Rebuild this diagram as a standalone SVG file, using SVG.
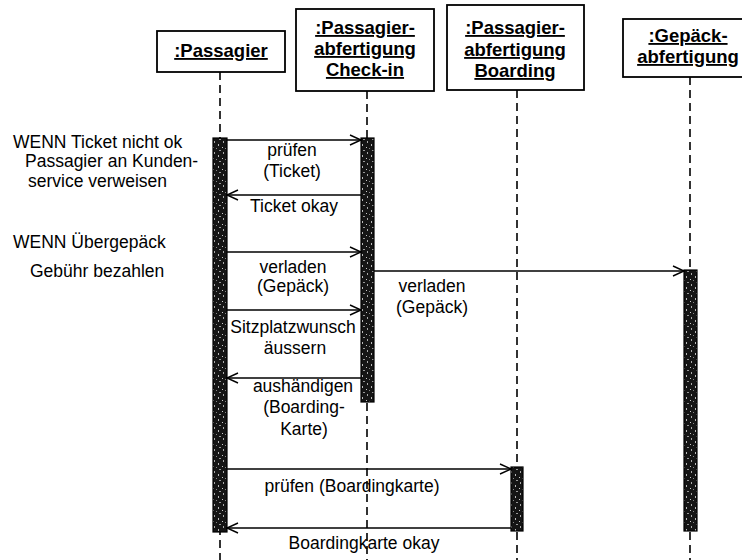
<svg xmlns="http://www.w3.org/2000/svg" width="742" height="560" viewBox="0 0 742 560">
<defs>
<style>
.box{fill:#fff;stroke:#000;stroke-width:1.8}
.hdr{font-family:"Liberation Sans",Arial,sans-serif;font-weight:bold;font-size:18.5px;text-anchor:middle;text-decoration:underline;fill:#000}
.life{stroke:#000;stroke-width:1.6;stroke-dasharray:8 5;fill:none}
.act{fill:url(#speck);stroke:#000;stroke-width:1.2}
.msg{stroke:#000;stroke-width:1.4;fill:none;marker-end:url(#arr)}
.lbl{font-family:"Liberation Sans",Arial,sans-serif;font-size:17.5px;fill:#000}
.c{text-anchor:middle}
</style>
<pattern id="speck" patternUnits="userSpaceOnUse" width="9" height="11">
<rect width="9" height="11" fill="#151515"/>
<rect x="2" y="1" width="1" height="2" fill="#bbb"/>
<rect x="6" y="4" width="1" height="1" fill="#ccc"/>
<rect x="3" y="7" width="2" height="1" fill="#999"/>
<rect x="7" y="9" width="1" height="2" fill="#aaa"/>
<rect x="0" y="5" width="1" height="1" fill="#888"/>
</pattern>
<marker id="arr" markerUnits="userSpaceOnUse" markerWidth="14" markerHeight="14" refX="12" refY="6" orient="auto">
<path d="M1,1 L12,6 L1,11" fill="none" stroke="#000" stroke-width="1.4"/>
</marker>
</defs>
<rect width="742" height="560" fill="#fff"/>

<g id="passagier">
<rect class="box" x="157" y="31" width="128" height="41"/>
<text class="hdr" x="221" y="57">:Passagier</text>
<line class="life" x1="220" y1="72" x2="220" y2="560"/>
<rect class="act" x="213" y="138" width="14" height="394"/>
</g>

<g id="checkin">
<rect class="box" x="296" y="9" width="138" height="82"/>
<text class="hdr" x="365" y="34">:Passagier-</text>
<text class="hdr" x="365" y="55">abfertigung</text>
<text class="hdr" x="365" y="76">Check-in</text>
<line class="life" x1="367" y1="91" x2="367" y2="560"/>
<rect class="act" x="361" y="138" width="13" height="264"/>
</g>

<g id="boarding">
<rect class="box" x="447" y="5" width="137" height="85"/>
<text class="hdr" x="515" y="34">:Passagier-</text>
<text class="hdr" x="515" y="56">abfertigung</text>
<text class="hdr" x="515" y="77">Boarding</text>
<line class="life" x1="517" y1="90" x2="517" y2="560"/>
<rect class="act" x="511" y="467" width="12" height="64"/>
</g>

<g id="gepaeck">
<rect class="box" x="623" y="19" width="132" height="58"/>
<text class="hdr" x="688" y="42">:Gepäck-</text>
<text class="hdr" x="688" y="63">abfertigung</text>
<line class="life" x1="690" y1="77" x2="690" y2="560"/>
<rect class="act" x="684" y="270" width="13" height="261"/>
</g>

<g id="notes">
<text class="lbl" x="13" y="148">WENN Ticket nicht ok</text>
<text class="lbl" x="25" y="167">Passagier an Kunden-</text>
<text class="lbl" x="28" y="187">service verweisen</text>
<text class="lbl" x="13" y="248">WENN Übergepäck</text>
<text class="lbl" x="30" y="277">Gebühr bezahlen</text>
</g>

<g id="connectors">
<line class="msg" x1="227" y1="140" x2="361" y2="140"/>
<text class="lbl c" x="292" y="156">prüfen</text>
<text class="lbl c" x="292" y="177">(Ticket)</text>

<line class="msg" x1="361" y1="195" x2="227" y2="195"/>
<text class="lbl c" x="294" y="212">Ticket okay</text>

<line class="msg" x1="227" y1="252" x2="361" y2="252"/>
<text class="lbl c" x="293" y="273">verladen</text>
<text class="lbl c" x="293" y="292">(Gepäck)</text>

<line class="msg" x1="374" y1="271" x2="684" y2="271"/>
<text class="lbl c" x="432" y="292">verladen</text>
<text class="lbl c" x="432" y="313">(Gepäck)</text>

<line class="msg" x1="227" y1="310" x2="361" y2="310"/>
<text class="lbl c" x="293" y="333">Sitzplatzwunsch</text>
<text class="lbl c" x="295" y="354">äussern</text>

<line class="msg" x1="361" y1="378" x2="227" y2="378"/>
<text class="lbl c" x="303" y="392">aushändigen</text>
<text class="lbl c" x="304" y="413">(Boarding-</text>
<text class="lbl c" x="304" y="435">Karte)</text>

<line class="msg" x1="227" y1="469" x2="511" y2="469"/>
<text class="lbl c" x="352" y="492">prüfen (Boardingkarte)</text>

<line class="msg" x1="511" y1="528" x2="227" y2="528"/>
<text class="lbl c" x="364" y="549">Boardingkarte okay</text>
</g>
</svg>
